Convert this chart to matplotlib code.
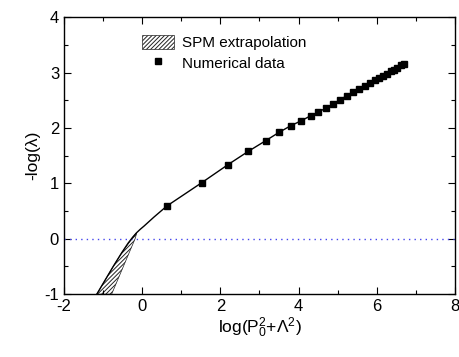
import matplotlib
matplotlib.use("Agg")
import matplotlib.pyplot as plt
from matplotlib.ticker import MultipleLocator

plt.rcParams['font.family'] = ['Liberation Sans', 'DejaVu Sans']
plt.rcParams['mathtext.fontset'] = 'custom'
plt.rcParams['mathtext.rm'] = 'Liberation Sans'
plt.rcParams['mathtext.it'] = 'Liberation Sans:italic'
plt.rcParams['axes.unicode_minus'] = False
plt.rcParams['hatch.linewidth'] = 0.7

# Numerical data
num_x = [0.63, 1.52, 2.20, 2.72, 3.16, 3.50, 3.80, 4.07, 4.31, 4.51, 4.71,
         4.87, 5.06, 5.23, 5.40, 5.55, 5.70, 5.83, 5.95, 6.06, 6.17, 6.27,
         6.36, 6.45, 6.53, 6.62, 6.70]
num_y = [0.59, 1.01, 1.34, 1.58, 1.77, 1.92, 2.04, 2.13, 2.22, 2.29, 2.36,
         2.43, 2.51, 2.58, 2.65, 2.70, 2.76, 2.81, 2.86, 2.90, 2.94, 2.98,
         3.02, 3.05, 3.09, 3.13, 3.16]

# Extrapolated solid line below the first data point
ext_x = [-1.16, -0.95, -0.74, -0.52, -0.36, -0.24, -0.14, -0.05, 0.05, 0.30, 0.63]
ext_y = [-1.00, -0.75, -0.50, -0.25, -0.08, 0.03, 0.11, 0.17, 0.23, 0.39, 0.59]

# SPM extrapolation band (left / right edges vs y)
band_y = [-1.00, -0.75, -0.50, -0.25, 0.00, 0.10]
band_left = [-1.16, -0.95, -0.74, -0.52, -0.26, -0.16]
band_right = [-0.78, -0.63, -0.48, -0.33, -0.18, -0.14]

fig = plt.figure(figsize=(4.6, 3.57), dpi=100)
ax = fig.add_axes([0.139, 0.176, 0.850, 0.776])

ax.axhline(0, color='#4444ee', linestyle=(0, (1, 3)), linewidth=1.0)

band = ax.fill_betweenx(band_y, band_left, band_right, facecolor='white',
                        edgecolor='#222222', hatch='////////', linewidth=0.5,
                        label='SPM extrapolation')

ax.plot(ext_x + num_x, ext_y + num_y, color='black', linewidth=1.0)
ax.plot(num_x, num_y, linestyle='none', marker='s', markersize=4.8,
        color='black', label='Numerical data')

ax.set_xlim(-2, 8)
ax.set_ylim(-1, 4)
ax.xaxis.set_major_locator(MultipleLocator(2))
ax.xaxis.set_minor_locator(MultipleLocator(1))
ax.yaxis.set_major_locator(MultipleLocator(1))
ax.yaxis.set_minor_locator(MultipleLocator(0.5))
ax.tick_params(which='both', direction='in', top=True, right=True,
               labelsize=12, width=0.8)
ax.tick_params(which='major', length=5)
ax.tick_params(which='minor', length=3)
for s in ax.spines.values():
    s.set_linewidth(1.0)

ax.set_xlabel(r'log(P$_0^2$+$\Lambda^2$)', fontsize=12.5, labelpad=1)
ax.set_ylabel('-log(λ)', fontsize=12.5, labelpad=3)

ax.legend(loc='upper left', bbox_to_anchor=(0.165, 0.985), frameon=False,
          fontsize=11, handlelength=2.1, handleheight=1.0,
          handletextpad=0.5, labelspacing=0.35)

fig.savefig('out.png', dpi=100)
